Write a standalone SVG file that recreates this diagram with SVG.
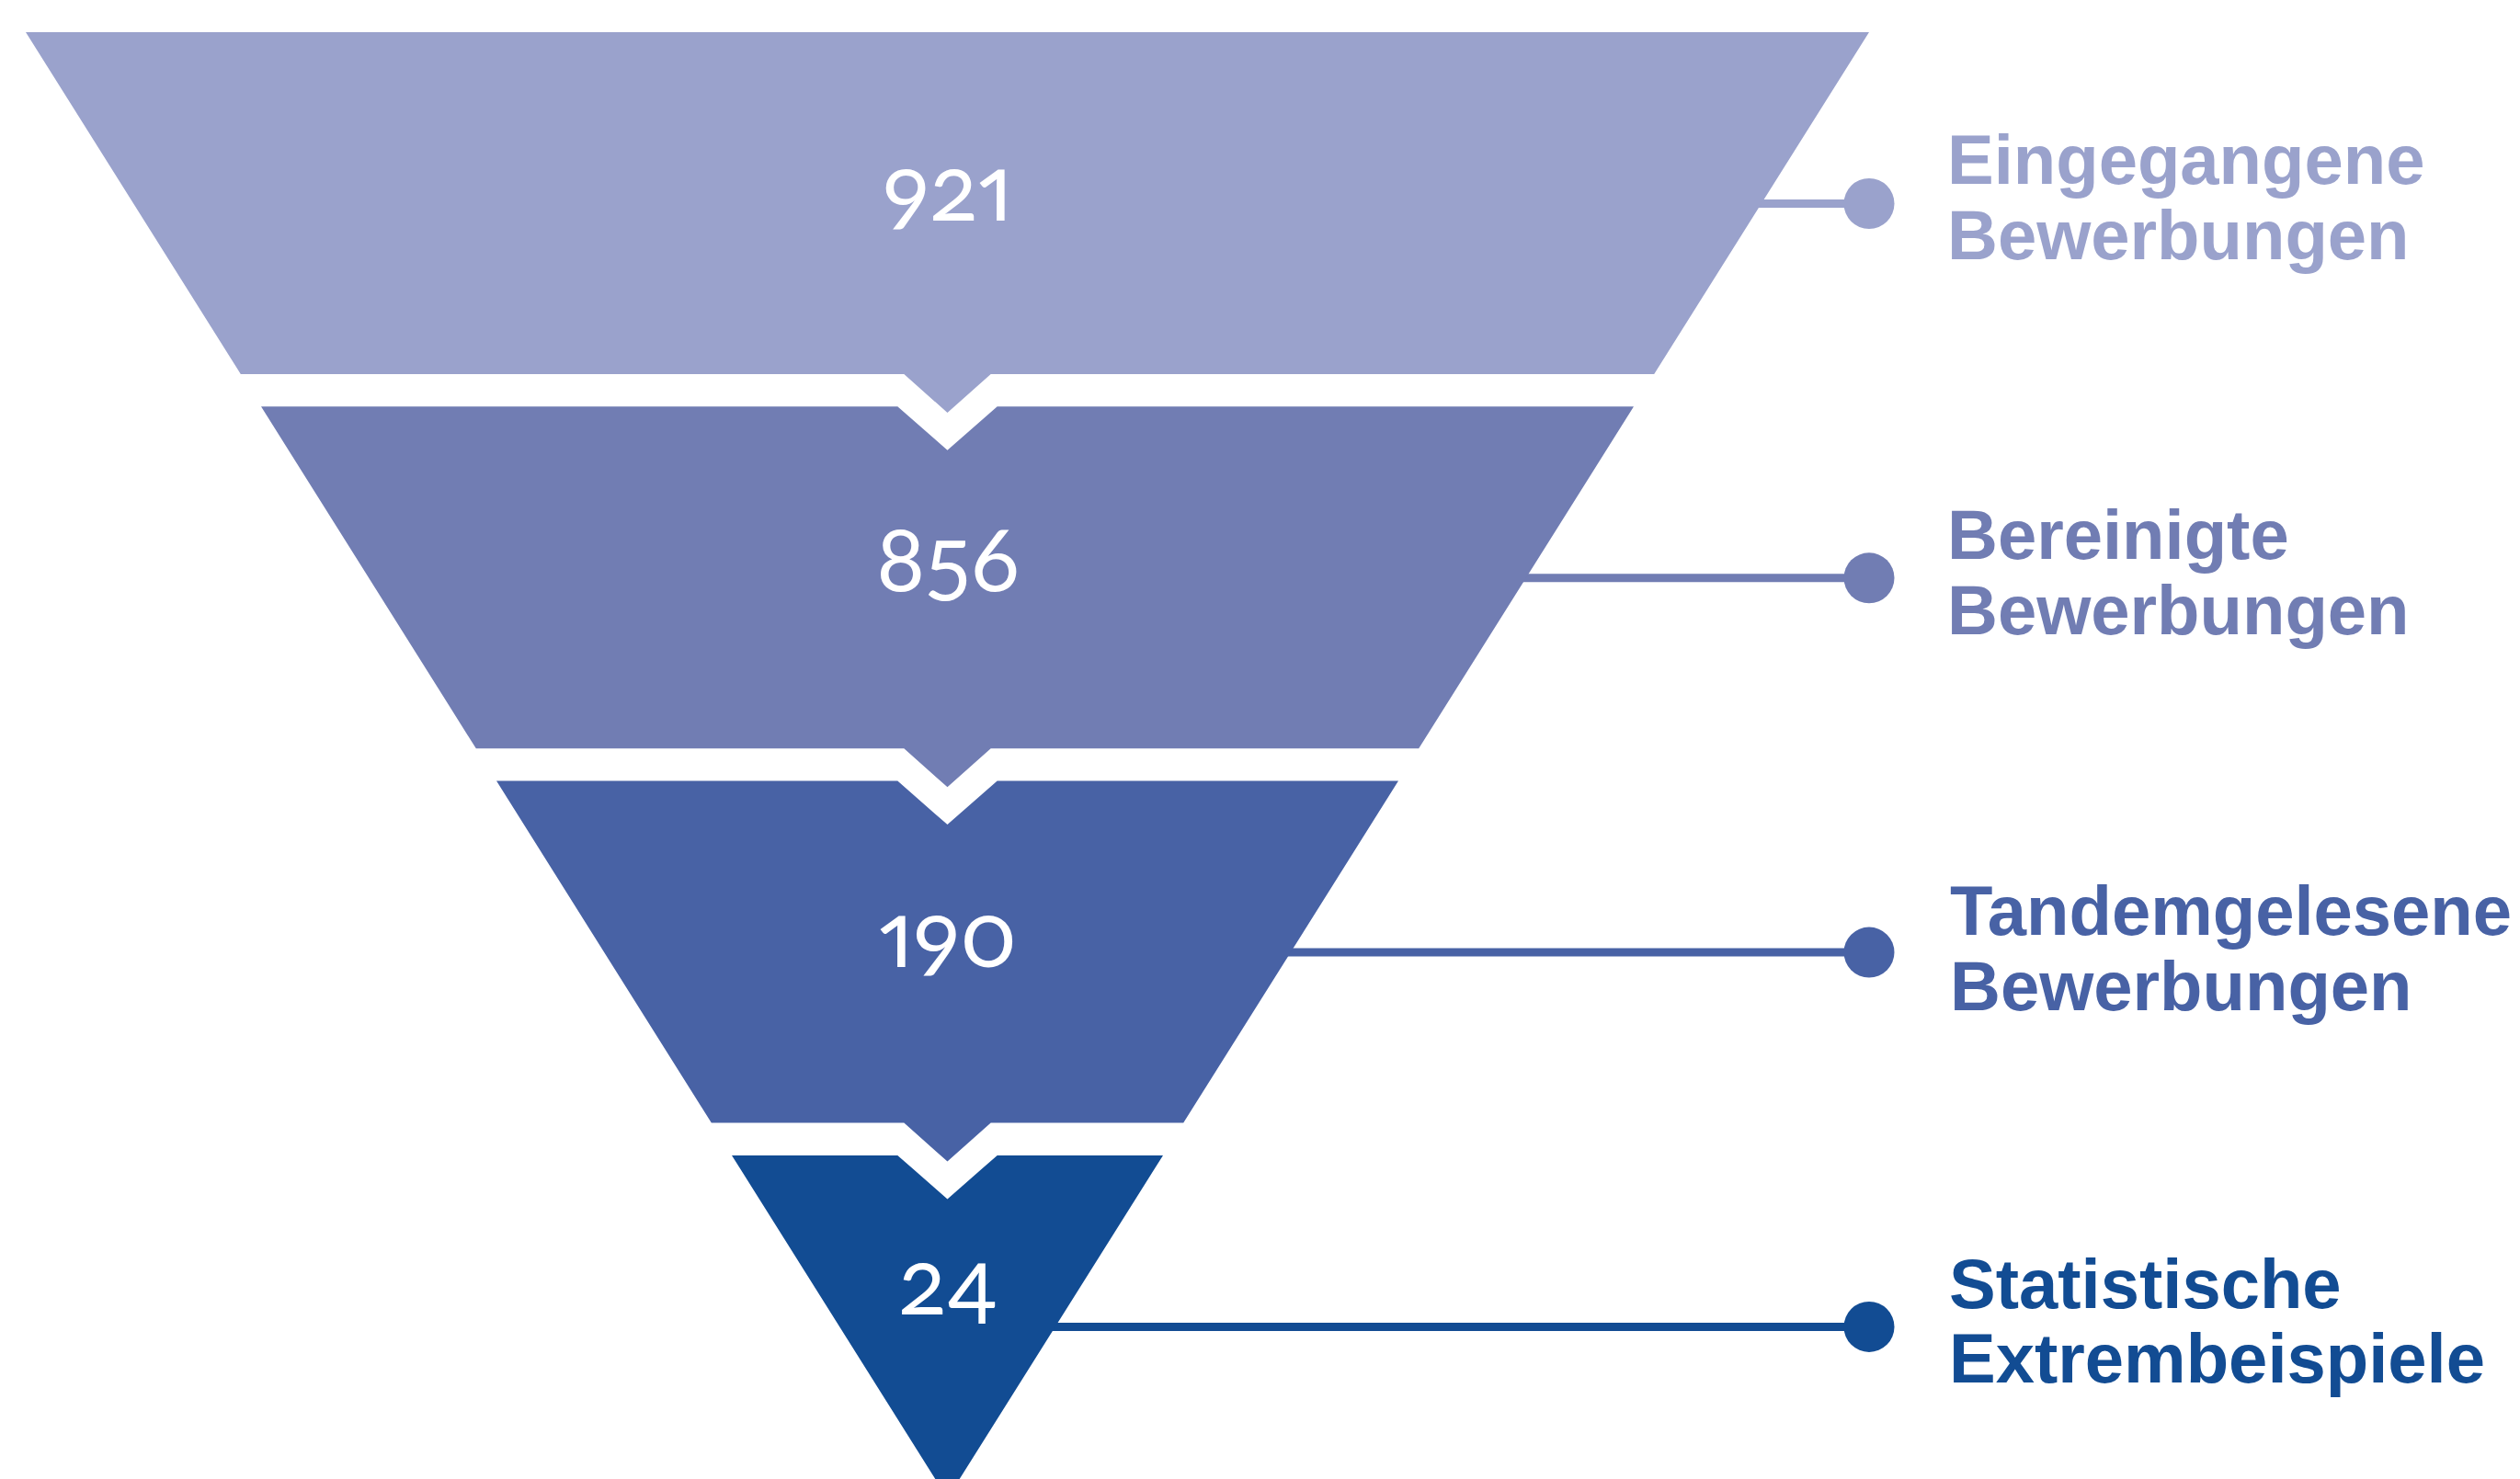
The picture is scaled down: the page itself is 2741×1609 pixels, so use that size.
<svg xmlns="http://www.w3.org/2000/svg" width="2741" height="1609" viewBox="0 0 2741 1609">
  <style>
    .num { font-family: Lato, "Open Sans", sans-serif; font-size: 98px; font-weight: 400; fill: #ffffff; text-anchor: middle; font-variant-numeric: oldstyle-nums proportional-nums; font-feature-settings: "onum" 1, "pnum" 1; }
    .lbl { font-family: "Liberation Sans", Arial, sans-serif; font-size: 76px; font-weight: 700; }
    .c1 { fill: #9AA2CC; } .s1 { stroke: #9AA2CC; }
    .c2 { fill: #717DB3; } .s2 { stroke: #717DB3; }
    .c3 { fill: #4862A5; } .s3 { stroke: #4862A5; }
    .c4 { fill: #124C93; } .s4 { stroke: #124C93; }
    .link { stroke-width: 9; fill: none; }
  </style>
  <rect width="2741" height="1609" fill="#ffffff"/>

  <!-- connectors from funnel edge to label dots -->
  <g id="connectors">
    <line class="link s1" x1="1910" y1="221.5" x2="2033" y2="221.5"/>
    <circle class="c1" cx="2033" cy="221.5" r="27.5"/>
    <line class="link s2" x1="1655" y1="628.8" x2="2033" y2="628.8"/>
    <circle class="c2" cx="2033" cy="628.8" r="27.5"/>
    <line class="link s3" x1="1400" y1="1036.1" x2="2033" y2="1036.1"/>
    <circle class="c3" cx="2033" cy="1036.1" r="27.5"/>
    <line class="link s4" x1="1140" y1="1443.4" x2="2033" y2="1443.4"/>
    <circle class="c4" cx="2033" cy="1443.4" r="27.5"/>
  </g>

  <g id="stage1">
    <polygon class="c1" points="28,35 2033,35 1799.2,407 1077.7,407 1030.5,449 983.3,407 261.8,407"/>
    <text class="num" x="1031" y="240">921</text>
    <text class="lbl c1" x="2118" y="200.3">Eingegangene</text>
    <text class="lbl c1" x="2118" y="282">Bewerbungen</text>
  </g>

  <g id="stage2">
    <polygon class="c2" points="284,442.3 976.3,442.3 1030.5,489.8 1084.7,442.3 1777,442.3 1543.2,814.3 1077.7,814.3 1030.5,856.3 983.3,814.3 517.8,814.3"/>
    <text class="num" x="1031" y="643.3">856</text>
    <text class="lbl c2" x="2118" y="608">Bereinigte</text>
    <text class="lbl c2" x="2118" y="689.6">Bewerbungen</text>
  </g>

  <g id="stage3">
    <polygon class="c3" points="540,849.6 976.3,849.6 1030.5,897.1 1084.7,849.6 1521,849.6 1287.2,1221.6 1077.7,1221.6 1030.5,1263.6 983.3,1221.6 773.8,1221.6"/>
    <text class="num" x="1031" y="1051.7">190</text>
    <text class="lbl c3" x="2121" y="1017.3">Tandemgelesene</text>
    <text class="lbl c3" x="2121" y="1098.8">Bewerbungen</text>
  </g>

  <g id="stage4">
    <polygon class="c4" points="796,1256.9 976.3,1256.9 1030.5,1304.4 1084.7,1256.9 1265,1256.9 1030.5,1630"/>
    <text class="num" x="1031" y="1430">24</text>
    <text class="lbl c4" x="2120" y="1423">Statistische</text>
    <text class="lbl c4" x="2120" y="1504">Extrembeispiele</text>
  </g>
</svg>
